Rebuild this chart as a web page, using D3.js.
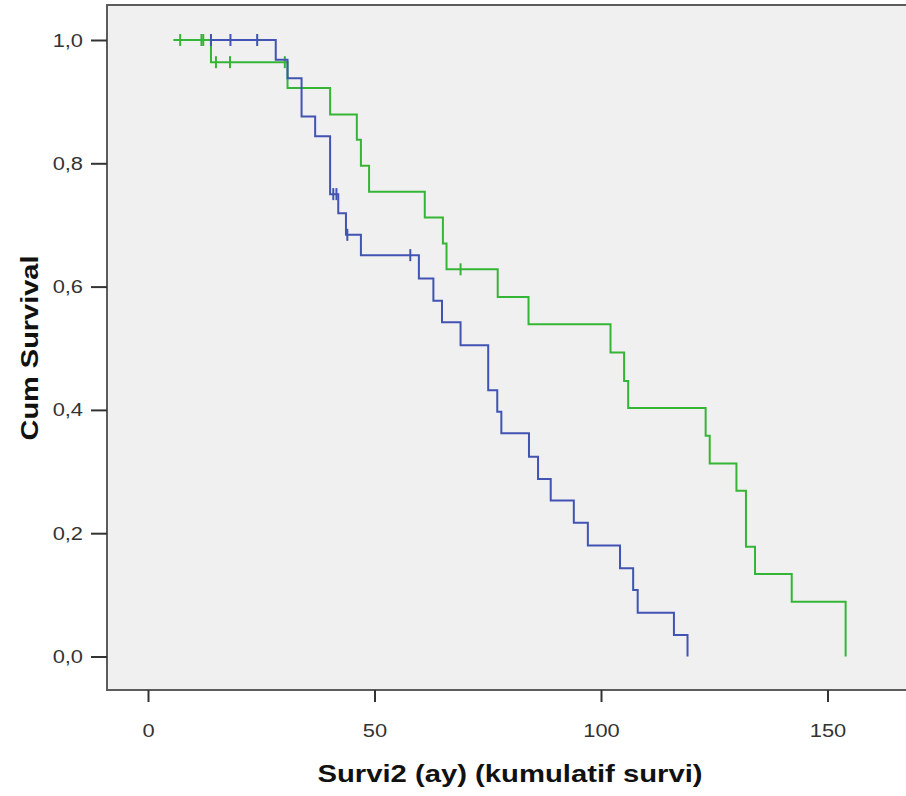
<!DOCTYPE html>
<html>
<head>
<meta charset="utf-8">
<script src="https://cdn.jsdelivr.net/npm/d3@7"></script>
<style>
  body { margin: 0; background: #fff; }
  svg { display: block; font-family: Arial, "Liberation Sans", sans-serif; }
</style>
</head>
<body>
<svg id="chart" width="906" height="796"></svg>
<script>
// blue group: event times and survival after each drop
const blueStart = 13.9;
const blueTimes = [28.2, 30.8, 33.9, 36.9, 40.2, 42.0, 43.7, 47.0, 59.8, 63.0, 64.9, 69.0, 75.1, 77.1, 78.0, 84.1, 86.1, 88.9, 94.0, 97.1, 104.2, 107.1, 108.1, 116.1, 119.1];
const blueSurv  = [0.968, 0.938, 0.876, 0.844, 0.750, 0.719, 0.684, 0.651, 0.613, 0.577, 0.542, 0.505, 0.432, 0.397, 0.362, 0.324, 0.288, 0.253, 0.217, 0.180, 0.143, 0.108, 0.071, 0.035, 0.0];
const blueCensor = [13.9, 18.2, 24.1, 40.9, 41.6, 44.0, 57.9];

// green group
const greenStart = 5.6;
const greenTimes = [13.9, 30.8, 40.2, 46.1, 47.0, 48.8, 61.1, 65.1, 65.9, 77.2, 84.0, 102.1, 105.1, 106.0, 123.1, 124.0, 129.9, 132.0, 134.0, 142.1, 154.0];
const greenSurv  = [0.964, 0.922, 0.879, 0.838, 0.796, 0.754, 0.712, 0.670, 0.628, 0.583, 0.539, 0.493, 0.447, 0.403, 0.358, 0.313, 0.269, 0.178, 0.134, 0.089, 0.0];
const greenCensor = [7.1, 11.8, 12.2, 15.0, 18.1, 30.2, 69.0];

const xTicks = [0, 50, 100, 150];
const yTicks = [0, 0.2, 0.4, 0.6, 0.8, 1.0];

const svg = d3.select("#chart");

const frameLeft = 107, frameTop = 5, frameBottom = 690, frameRight = 912;

const x = d3.scaleLinear().domain([0, 150]).range([148, 827.5]);
const y = d3.scaleLinear().domain([0, 1]).range([656.5, 40]);

// plot background + frame
svg.append("rect")
    .attr("x", frameLeft)
    .attr("y", frameTop)
    .attr("width", frameRight - frameLeft)
    .attr("height", frameBottom - frameTop)
    .attr("fill", "#f0f0f0")
    .attr("stroke", "#5c5c5c")
    .attr("stroke-width", 2);

// the original font is a bit wider than Arial, stretch it a little
function widen(sel, k) {
    sel.each(function() {
        const w = this.getComputedTextLength();
        d3.select(this)
            .attr("textLength", w * k)
            .attr("lengthAdjust", "spacingAndGlyphs");
    });
}

// axes
const fmt = d => d3.format(".1f")(d).replace(".", ",");

svg.append("g")
    .attr("transform", `translate(0,${frameBottom})`)
    .call(d3.axisBottom(x).tickValues(xTicks).tickSize(12).tickPadding(22))
    .call(g => g.select(".domain").remove())
    .call(g => g.selectAll(".tick line").attr("stroke", "#333").attr("stroke-width", 2))
    .call(g => g.selectAll(".tick text").attr("fill", "#333").style("font-size", "19px").call(widen, 1.15));

svg.append("g")
    .attr("transform", `translate(${frameLeft},0)`)
    .call(d3.axisLeft(y).tickValues(yTicks).tickFormat(fmt).tickSize(16).tickPadding(8))
    .call(g => g.select(".domain").remove())
    .call(g => g.selectAll(".tick line").attr("stroke", "#333").attr("stroke-width", 2))
    .call(g => g.selectAll(".tick text").attr("fill", "#333").style("font-size", "19px").call(widen, 1.15));

// axis titles
svg.append("text")
    .attr("x", 510)
    .attr("y", 782)
    .attr("text-anchor", "middle")
    .style("font-size", "24px")
    .style("font-weight", "bold")
    .attr("fill", "#111")
    .attr("textLength", 385)
    .attr("lengthAdjust", "spacingAndGlyphs")
    .text("Survi2 (ay) (kumulatif survi)");

svg.append("text")
    .attr("transform", "translate(38,348) rotate(-90)")
    .attr("text-anchor", "middle")
    .style("font-size", "24px")
    .style("font-weight", "bold")
    .attr("fill", "#111")
    .attr("textLength", 185)
    .attr("lengthAdjust", "spacingAndGlyphs")
    .text("Cum Survival");

// build step points from start, event times and survival values
function steps(start, times, surv) {
    const pts = [[start, 1]];
    let prev = 1;
    times.forEach((t, i) => {
        pts.push([t, prev]);
        pts.push([t, surv[i]]);
        prev = surv[i];
    });
    return pts;
}

function survAt(t, times, surv) {
    let s = 1;
    times.forEach((tt, i) => { if (tt <= t) s = surv[i]; });
    return s;
}

const line = d3.line()
    .x(d => x(d[0]))
    .y(d => y(d[1]));

const groups = [
    {start: greenStart, times: greenTimes, surv: greenSurv, censor: greenCensor, color: "#35b535"},
    {start: blueStart, times: blueTimes, surv: blueSurv, censor: blueCensor, color: "#4153b3"}
];

groups.forEach(grp => {
    svg.append("path")
        .attr("fill", "none")
        .attr("stroke", grp.color)
        .attr("stroke-width", 2)
        .attr("d", line(steps(grp.start, grp.times, grp.surv)));

    // censor marks
    svg.append("g")
        .selectAll("line")
        .data(grp.censor)
        .join("line")
        .attr("x1", d => x(d))
        .attr("x2", d => x(d))
        .attr("y1", d => y(survAt(d, grp.times, grp.surv)) - 6)
        .attr("y2", d => y(survAt(d, grp.times, grp.surv)) + 6)
        .attr("stroke", grp.color)
        .attr("stroke-width", 2);
});
</script>
</body>
</html>
